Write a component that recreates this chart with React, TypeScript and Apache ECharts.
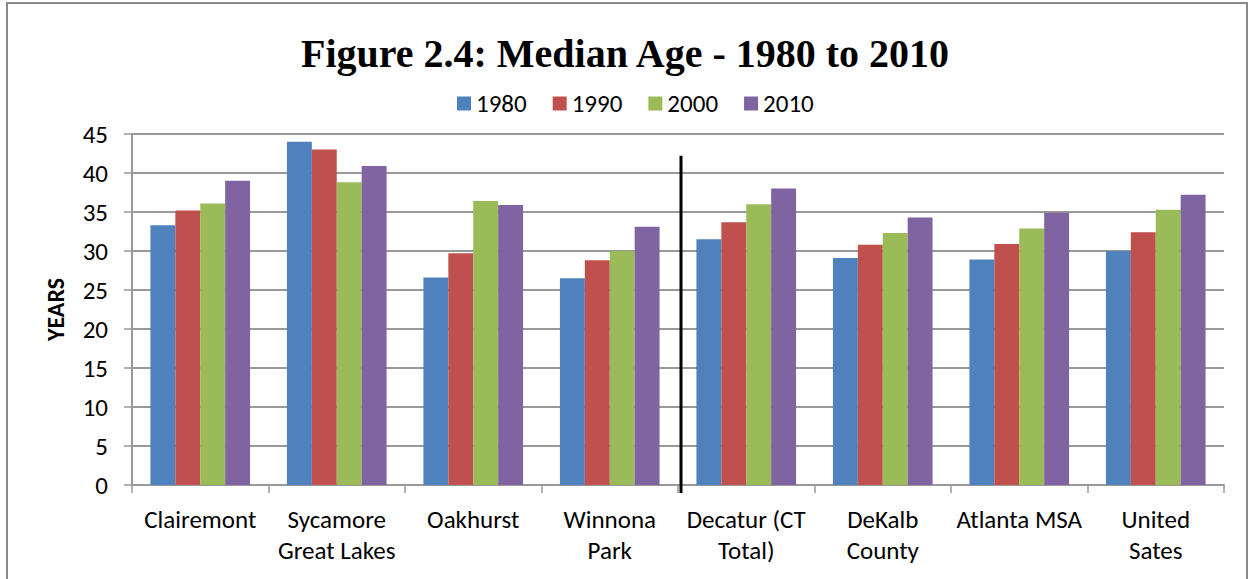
import React, { useEffect, useRef } from "react";
import * as echarts from "echarts";

const categories = [
  "Clairemont",
  "Sycamore\nGreat Lakes",
  "Oakhurst",
  "Winnona\nPark",
  "Decatur (CT\nTotal)",
  "DeKalb\nCounty",
  "Atlanta MSA",
  "United\nSates",
];
const years = ["1980", "1990", "2000", "2010"];
const v1980 = [33.3, 44.0, 26.6, 26.5, 31.5, 29.1, 28.9, 30.0];
const v1990 = [35.2, 43.0, 29.7, 28.8, 33.7, 30.8, 30.9, 32.4];
const v2000 = [36.1, 38.8, 36.4, 30.0, 36.0, 32.3, 32.9, 35.3];
const v2010 = [39.0, 40.9, 35.9, 33.1, 38.0, 34.3, 34.9, 37.2];
const colors = ["#4F81BD", "#C0504D", "#9BBB59", "#8064A2"];
const dividerAfterIndex = 3;
const dividerTopValue = 42.2;

const FONT = "Carlito, Lato, sans-serif";

export default function App() {
  const ref = useRef<HTMLDivElement>(null);
  useEffect(() => {
    if (!ref.current) return;
    const chart = echarts.init(ref.current, null, { renderer: "svg" });
    const seriesData = [v1980, v1990, v2000, v2010];
    chart.setOption({
      animation: false,
      backgroundColor: "#ffffff",
      title: {
        text: "Figure 2.4: Median Age - 1980 to 2010",
        left: "center",
        top: 28,
        textStyle: {
          fontFamily: "'Liberation Serif', 'Times New Roman', serif",
          fontWeight: "bold",
          fontSize: 40,
          color: "#000",
        },
      },
      legend: {
        top: 86,
        left: 452,
        itemWidth: 14,
        itemHeight: 14,
        itemGap: 26,
        icon: "rect",
        textStyle: { fontFamily: FONT, fontSize: 25, color: "#000" },
        data: years,
      },
      grid: { left: 132, right: 26, top: 134, bottom: 94 },
      xAxis: {
        type: "category",
        data: categories,
        axisLine: { lineStyle: { color: "#999", width: 2 } },
        axisTick: { show: true, alignWithLabel: false, length: 8, lineStyle: { color: "#999", width: 1.5 } },
        axisLabel: {
          fontFamily: FONT,
          fontSize: 25,
          color: "#000",
          lineHeight: 31,
          margin: 19,
          interval: 0,
        },
      },
      yAxis: {
        type: "value",
        min: 0,
        max: 45,
        interval: 5,
        name: "YEARS",
        nameLocation: "middle",
        nameGap: 65,
        nameTextStyle: { fontFamily: FONT, fontSize: 24, fontWeight: "bold", color: "#000" },
        axisLine: { show: true, lineStyle: { color: "#999", width: 2 } },
        axisTick: { show: true, length: 8, lineStyle: { color: "#999", width: 1.5 } },
        axisLabel: { fontFamily: FONT, fontSize: 25, color: "#000", margin: 24 },
        splitLine: { lineStyle: { color: "#999", width: 2 } },
      },
      series: years.map((y, i) => ({
        name: y,
        type: "bar",
        data: seriesData[i],
        barGap: "0%",
        barCategoryGap: "27%",
        itemStyle: { color: colors[i] },
      })),
    });
    const x1 = chart.convertToPixel({ xAxisIndex: 0 }, dividerAfterIndex) as number;
    const x2 = chart.convertToPixel({ xAxisIndex: 0 }, dividerAfterIndex + 1) as number;
    const yTop = chart.convertToPixel({ yAxisIndex: 0 }, dividerTopValue) as number;
    const yBottom = (chart.convertToPixel({ yAxisIndex: 0 }, 0) as number) + 8;
    const xm = (x1 + x2) / 2 + 3;
    chart.setOption({
      graphic: [
        {
          type: "rect",
          shape: { x: 7, y: 3, width: 1240, height: 620 },
          style: { fill: "none", stroke: "#8a8a8a", lineWidth: 2 },
          silent: true,
          z: 100,
        },
        {
          type: "line",
          shape: { x1: xm, y1: yTop, x2: xm, y2: yBottom },
          style: { stroke: "#000", lineWidth: 3 },
          z: 100,
        },
      ],
    });
    return () => chart.dispose();
  }, []);
  return (
    <div
      ref={ref}
      style={{ position: "absolute", left: 0, top: 0, width: 1250, height: 579 }}
    />
  );
}
